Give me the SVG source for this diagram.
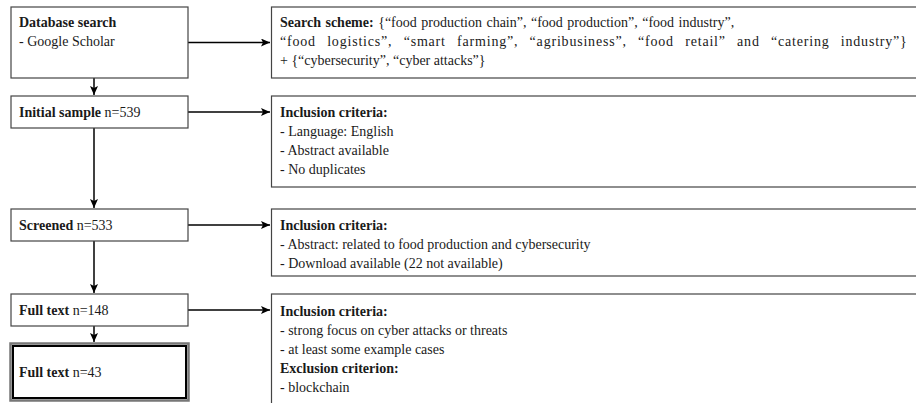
<svg xmlns="http://www.w3.org/2000/svg" width="916" height="403" viewBox="0 0 916 403">
<style>
.box{fill:#fff;stroke:#444;stroke-width:1.2}
.t{font-family:"Liberation Serif","Times New Roman",serif;font-size:14px;fill:#1a1a1a}
.b{font-weight:bold}
.c{fill:none;stroke:#000;stroke-width:1.5}
</style>
<defs>
<marker id="ah" markerWidth="10" markerHeight="8" refX="9" refY="4" orient="auto" markerUnits="userSpaceOnUse">
<path d="M0,0 L9,4 L0,8 L2,4 Z" fill="#000"/>
</marker>
</defs>
<rect width="916" height="403" fill="#fff"/>
<g id="connectors">
<line class="c" x1="94" y1="78" x2="94" y2="95" marker-end="url(#ah)"/>
<line class="c" x1="188" y1="42.5" x2="270" y2="42.5" marker-end="url(#ah)"/>
<line class="c" x1="188" y1="112" x2="270" y2="112" marker-end="url(#ah)"/>
<line class="c" x1="94" y1="128" x2="94" y2="208" marker-end="url(#ah)"/>
<line class="c" x1="188" y1="225" x2="270" y2="225" marker-end="url(#ah)"/>
<line class="c" x1="94" y1="241" x2="94" y2="293" marker-end="url(#ah)"/>
<line class="c" x1="188" y1="310" x2="270" y2="310" marker-end="url(#ah)"/>
<line class="c" x1="94" y1="326" x2="94" y2="342" marker-end="url(#ah)"/>
</g>
<g id="db-search">
<rect class="box" x="11" y="7" width="177" height="71"/>
<text class="t b" x="19" y="27">Database search</text>
<text class="t" x="19" y="46">- Google Scholar</text>
</g>
<g id="search-scheme">
<rect class="box" x="271.5" y="7" width="660" height="71"/>
<text class="t" x="280" y="27" word-spacing="1"><tspan class="b">Search scheme:</tspan> {“food production chain”, “food production”, “food industry”,</text>
<text class="t" x="280" y="46" word-spacing="7" letter-spacing="0.8">“food logistics”, “smart farming”, “agribusiness”, “food retail” and “catering industry”}</text>
<text class="t" x="280" y="65">+ {“cybersecurity”, “cyber attacks”}</text>
</g>
<g id="initial-sample">
<rect class="box" x="11" y="96" width="177" height="32"/>
<text class="t" x="19" y="117"><tspan class="b">Initial sample</tspan> n=539</text>
</g>
<g id="inclusion-1">
<rect class="box" x="271.5" y="96" width="660" height="91"/>
<text class="t b" x="280" y="117">Inclusion criteria:</text>
<text class="t" x="280" y="136">- Language: English</text>
<text class="t" x="280" y="155">- Abstract available</text>
<text class="t" x="280" y="174">- No duplicates</text>
</g>
<g id="screened">
<rect class="box" x="11" y="209" width="177" height="32"/>
<text class="t" x="19" y="230"><tspan class="b">Screened</tspan> n=533</text>
</g>
<g id="inclusion-2">
<rect class="box" x="271.5" y="209" width="660" height="67"/>
<text class="t b" x="280" y="230">Inclusion criteria:</text>
<text class="t" x="280" y="249">- Abstract: related to food production and cybersecurity</text>
<text class="t" x="280" y="268">- Download available (22 not available)</text>
</g>
<g id="full-text-148">
<rect class="box" x="11" y="294" width="177" height="32"/>
<text class="t" x="19" y="315"><tspan class="b">Full text</tspan> n=148</text>
</g>
<g id="inclusion-3">
<rect class="box" x="271.5" y="294" width="660" height="130"/>
<text class="t b" x="280" y="316">Inclusion criteria:</text>
<text class="t" x="280" y="335">- strong focus on cyber attacks or threats</text>
<text class="t" x="280" y="354">- at least some example cases</text>
<text class="t b" x="280" y="373">Exclusion criterion:</text>
<text class="t" x="280" y="392">- blockchain</text>
</g>
<g id="full-text-43">
<rect x="10.5" y="343.5" width="178" height="57" fill="#fff" stroke="#777" stroke-width="2.5"/>
<rect x="13" y="346" width="173" height="52" fill="none" stroke="#000" stroke-width="2"/>
<text class="t" x="19" y="377"><tspan class="b">Full text</tspan> n=43</text>
</g>
</svg>
